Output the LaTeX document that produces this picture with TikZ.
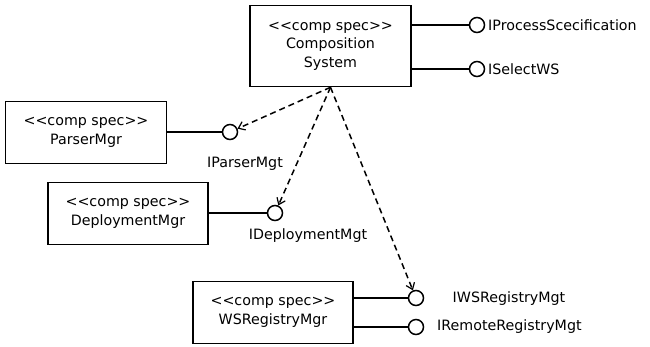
\documentclass[tikz,border=0pt]{standalone}
\usepackage{fontspec}
\setmainfont{DejaVu Sans}[Ligatures=TeXOff]
\usetikzlibrary{arrows.meta}

\tikzset{
  compbox/.style={draw, line width=1.6bp, align=center, inner sep=0pt,
    minimum width=161bp, minimum height=62bp},
  iface/.style={draw, circle, line width=1.5bp, minimum size=15bp, inner sep=0pt},
  lolly/.style={line width=1.5bp},
  dep/.style={line width=1.5bp, dash pattern=on 6bp off 4bp,
    -{Straight Barb[length=6bp, width=9bp, line width=1.2bp]}},
  ilabel/.style={inner sep=0pt}
}

\begin{document}
\begin{tikzpicture}[x=1bp, y=-1bp, font=\fontsize{14.3}{18.5}\selectfont]
  \useasboundingbox (0,0) rectangle (650,346);
  % components
  \node[compbox, minimum height=81bp] (comp) at (330.5,46) {<<comp spec>>\\Composition\\System};
  \node[compbox] (parser) at (86,132.5) {<<comp spec>>\\ParserMgr};
  \node[compbox, minimum width=160bp] (deploy) at (128,213.5) {<<comp spec>>\\DeploymentMgr};
  \node[compbox, minimum width=160bp] (wsreg) at (273,312.5) {<<comp spec>>\\WSRegistryMgr};
  % provided interfaces
  \node[iface] (iproc) at (477,25) {};
  \node[iface] (isel) at (477,69) {};
  \node[iface] (ipars) at (230,132) {};
  \node[iface] (idepl) at (275,213) {};
  \node[iface] (iwsreg) at (416,298) {};
  \node[iface] (iremote) at (416,327) {};
  % interface names
  \node[ilabel, anchor=west] (iproc-l) at (488,25) {IProcessScecification};
  \node[ilabel, anchor=west] (isel-l) at (488,69) {ISelectWS};
  \node[ilabel] (ipars-l) at (245,164) {IParserMgt};
  \node[ilabel] (idepl-l) at (308,236) {IDeploymentMgt};
  \node[ilabel] (iwsreg-l) at (509,299) {IWSRegistryMgt};
  \node[ilabel, anchor=west] (iremote-l) at (437,327) {IRemoteRegistryMgt};
  % lollipop lines
  \draw[lolly] (comp.east |- iproc) -- (iproc);
  \draw[lolly] (comp.east |- isel) -- (isel);
  \draw[lolly] (parser.east |- ipars) -- (ipars);
  \draw[lolly] (deploy.east |- idepl) -- (idepl);
  \draw[lolly] (wsreg.east |- iwsreg) -- (iwsreg);
  \draw[lolly] (wsreg.east |- iremote) -- (iremote);
  % dependencies
  \draw[dep] (comp.south) -- (ipars);
  \draw[dep] (comp.south) -- (idepl);
  \draw[dep] (comp.south) -- (iwsreg);
\end{tikzpicture}
\end{document}
